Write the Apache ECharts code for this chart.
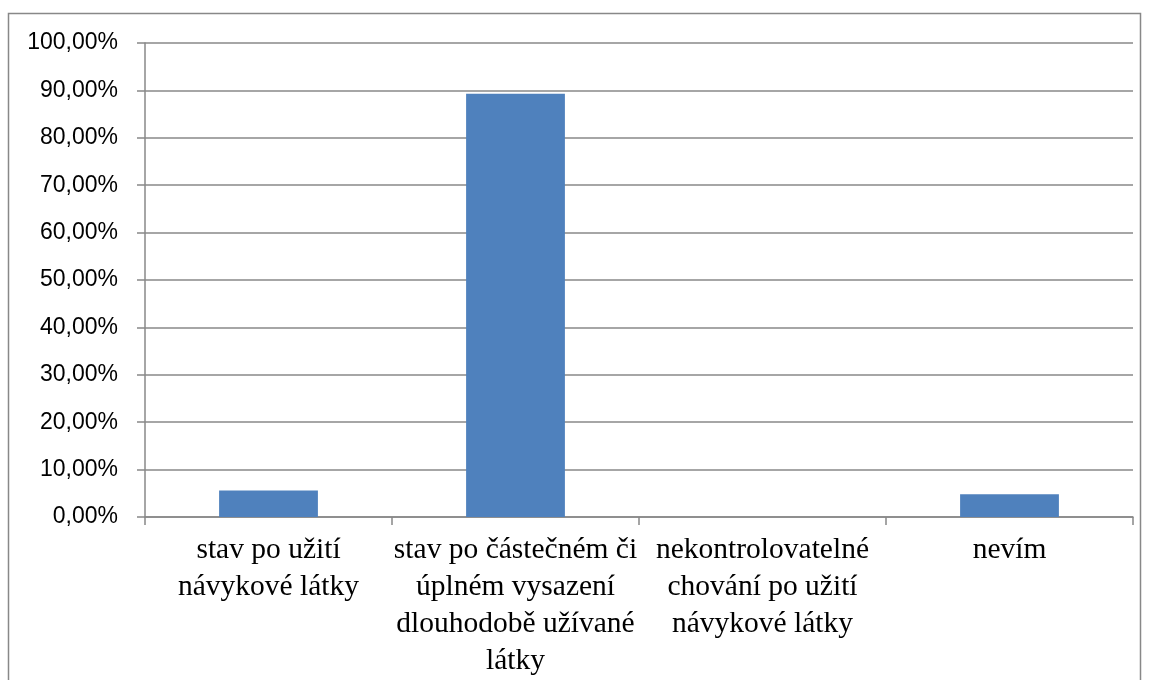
<!DOCTYPE html>
<html>
<head>
<meta charset="utf-8">
<script src="https://cdn.jsdelivr.net/npm/echarts@6/dist/echarts.min.js"></script>
<style>
html,body{margin:0;padding:0;background:#fff;}
#chart{width:1149px;height:680px;}
</style>
</head>
<body>
<div id="chart"></div>
<script>
const categories = [
  'stav po užití\nnávykové látky',
  'stav po částečném či\núplném vysazení\ndlouhodobě užívané\nlátky',
  'nekontrolovatelné\nchování po užití\nnávykové látky',
  'nevím'
];
const values = [5.6, 89.3, 0, 4.8];
const yMin = 0;
const yMax = 100;
const yStep = 10;

const chart = echarts.init(document.getElementById('chart'), null, {renderer: 'canvas'});
const gray = '#888888';
chart.setOption({
  animation: false,
  backgroundColor: '#ffffff',
  graphic: [{
    type: 'rect',
    shape: {x: 8.5, y: 13.5, width: 1132, height: 700},
    style: {fill: 'none', stroke: gray, lineWidth: 1.5},
    silent: true
  }],
  grid: {left: 145, right: 16, top: 43, bottom: 163, containLabel: false},
  xAxis: {
    type: 'category',
    data: categories,
    axisLine: {show: true, lineStyle: {color: gray, width: 1.5}},
    axisTick: {show: true, length: 8, alignWithLabel: false, lineStyle: {color: gray, width: 1.5}},
    axisLabel: {
      interval: 0,
      margin: 15,
      fontFamily: 'Liberation Serif, Times New Roman, serif',
      fontSize: 29.5,
      lineHeight: 37,
      color: '#000',
      align: 'center'
    },
    splitLine: {show: false}
  },
  yAxis: {
    type: 'value',
    min: yMin,
    max: yMax,
    interval: yStep,
    axisLine: {show: true, lineStyle: {color: gray, width: 1.5}},
    axisTick: {show: true, length: 8, lineStyle: {color: gray, width: 1.5}},
    axisLabel: {
      margin: 27,
      fontFamily: 'Liberation Sans, Arial, sans-serif',
      fontSize: 23,
      color: '#000',
      formatter: v => v.toFixed(2).replace('.', ',') + '%'
    },
    splitLine: {show: true, lineStyle: {color: gray, width: 1.5}}
  },
  series: [{
    type: 'bar',
    data: values,
    barCategoryGap: '60%',
    itemStyle: {color: '#4f81bd'}
  }]
});
</script>
</body>
</html>
